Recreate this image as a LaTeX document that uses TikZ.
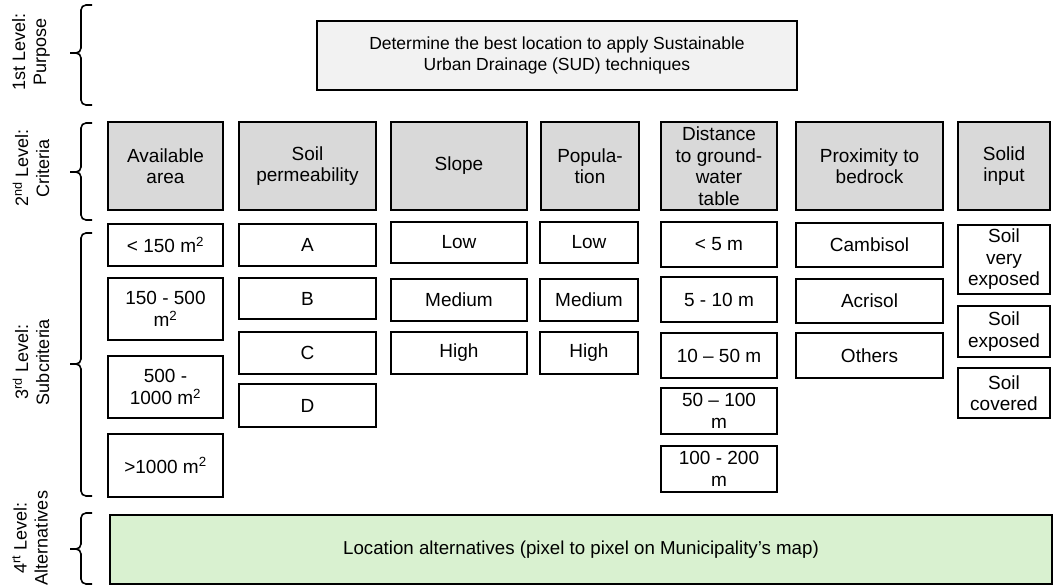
\documentclass[tikz,border=0pt]{standalone}
\usepackage{fontspec}
\setmainfont{Liberation Sans}
\usepackage{tikz}

\definecolor{critgray}{RGB}{217,217,217}
\definecolor{goalgray}{RGB}{242,242,242}
\definecolor{altgreen}{RGB}{217,241,208}
\newcommand{\boxfont}{\fontsize{19}{21.5}\selectfont}
\newcommand{\msq}{m\textsuperscript{2}}

\begin{document}
\begin{tikzpicture}[x=1pt, y=-1pt,
    box/.style={draw=black, line width=2.2pt, fill=white, align=center,
      inner sep=0pt, outer sep=0pt, font=\boxfont},
    critbox/.style={box, fill=critgray},
    lvl/.style={rotate=90, align=center, font=\fontsize{18}{21}\selectfont, inner sep=0pt},
    lvlbrace/.style={line width=1.6pt, rounded corners=5pt}]
   \useasboundingbox (0,0) rectangle (1053,586);

   % 1st level
   \node[box, fill=goalgray, minimum width=480, minimum height=69,
     font=\fontsize{17.5}{21}\selectfont] (goal) at (557,55.5)
     {Determine the best location to apply Sustainable\\Urban Drainage (SUD) techniques};

   % 2nd level
   \node[critbox, minimum width=115, minimum height=88] (area) at (165.5,166) {Available\\area};
   \node[critbox, minimum width=137, minimum height=88] (perm) at (307.5,166) {Soil\\permeability};
   \node[critbox, minimum width=136, minimum height=88] (slope) at (459,166) {Slope};
   \node[critbox, minimum width=98, minimum height=88] (popu) at (590,166) {Popula-\\tion};
   \node[critbox, minimum width=116, minimum height=88] (dist) at (719,166) {Distance\\to ground-\\water\\table};
   \node[critbox, minimum width=147, minimum height=88] (prox) at (869.5,166) {Proximity to\\bedrock};
   \node[critbox, minimum width=92, minimum height=88] (solid) at (1004,166) {Solid\\input};

   % 3rd level
   \node[box, minimum width=115, minimum height=42] (area1) at (165.5,245) {< 150 \msq};
   \node[box, minimum width=115, minimum height=62] (area2) at (165.5,309) {150 - 500\\\msq};
   \node[box, minimum width=115, minimum height=62] (area3) at (165.5,387) {500 -\\1000 \msq};
   \node[box, minimum width=115, minimum height=63] (area4) at (165.5,465.5) {>1000 \msq};

   \node[box, minimum width=137, minimum height=42] (permA) at (307.5,245) {A};
   \node[box, minimum width=137, minimum height=41] (permB) at (307.5,298.5) {B};
   \node[box, minimum width=137, minimum height=42] (permC) at (307.5,353) {C};
   \node[box, minimum width=137, minimum height=43] (permD) at (307.5,405.5) {D};

   \node[box, minimum width=136, minimum height=41] (slope1) at (459,242.5) {Low};
   \node[box, minimum width=136, minimum height=42] (slope2) at (459,300) {Medium};
   \node[box, minimum width=136, minimum height=42] (slope3) at (459,353) {High};

   \node[box, minimum width=98, minimum height=41] (popu1) at (589,242.5) {Low};
   \node[box, minimum width=98, minimum height=42] (popu2) at (589,300) {Medium};
   \node[box, minimum width=98, minimum height=42] (popu3) at (589,353) {High};

   \node[box, minimum width=116, minimum height=45] (dist1) at (719,244.5) {< 5 m};
   \node[box, minimum width=116, minimum height=45] (dist2) at (719,299.5) {5 - 10 m};
   \node[box, minimum width=116, minimum height=45] (dist3) at (719,355.5) {10 – 50 m};
   \node[box, minimum width=116, minimum height=46] (dist4) at (719,411) {50 – 100\\m};
   \node[box, minimum width=116, minimum height=46] (dist5) at (719,469) {100 - 200\\m};

   \node[box, minimum width=147, minimum height=44] (prox1) at (869.5,245) {Cambisol};
   \node[box, minimum width=147, minimum height=44] (prox2) at (869.5,301) {Acrisol};
   \node[box, minimum width=147, minimum height=45] (prox3) at (869.5,355.5) {Others};

   \node[box, minimum width=92, minimum height=69] (solid1) at (1004,259.5) {Soil\\very\\exposed};
   \node[box, minimum width=92, minimum height=51] (solid2) at (1004,331.5) {Soil\\exposed};
   \node[box, minimum width=92, minimum height=50] (solid3) at (1004,393) {Soil\\covered};

   % 4th level
   \node[box, fill=altgreen, minimum width=942, minimum height=69,
     font=\fontsize{18.7}{22}\selectfont] (alter) at (581,549.5)
     {Location alternatives (pixel to pixel on Municipality’s map)};

   % level brackets
   \draw[lvlbrace] (92,5) -- (81,5) -- (81,53) -- (70,53);
   \draw[lvlbrace] (92,105) -- (81,105) -- (81,53) -- (70,53);
   \draw[lvlbrace] (92,123) -- (81,123) -- (81,172) -- (70,172);
   \draw[lvlbrace] (92,220) -- (81,220) -- (81,172) -- (70,172);
   \draw[lvlbrace] (92,233) -- (81,233) -- (81,364) -- (70,364);
   \draw[lvlbrace] (92,496) -- (81,496) -- (81,364) -- (70,364);
   \draw[lvlbrace] (92,513) -- (81,513) -- (81,549) -- (70,549);
   \draw[lvlbrace] (92,584) -- (81,584) -- (81,549) -- (70,549);

   \node[lvl] (lvl1) at (31,52) {1st Level:\\Purpose};
   \node[lvl] (lvl2) at (31,168) {2\textsuperscript{nd} Level:\\Criteria};
   \node[lvl] (lvl3) at (31,362) {3\textsuperscript{rd} Level:\\Subcriteria};
   \node[lvl] (lvl4) at (30,538) {4\textsuperscript{rt} Level:\\Alternatives};
\end{tikzpicture}
\end{document}
